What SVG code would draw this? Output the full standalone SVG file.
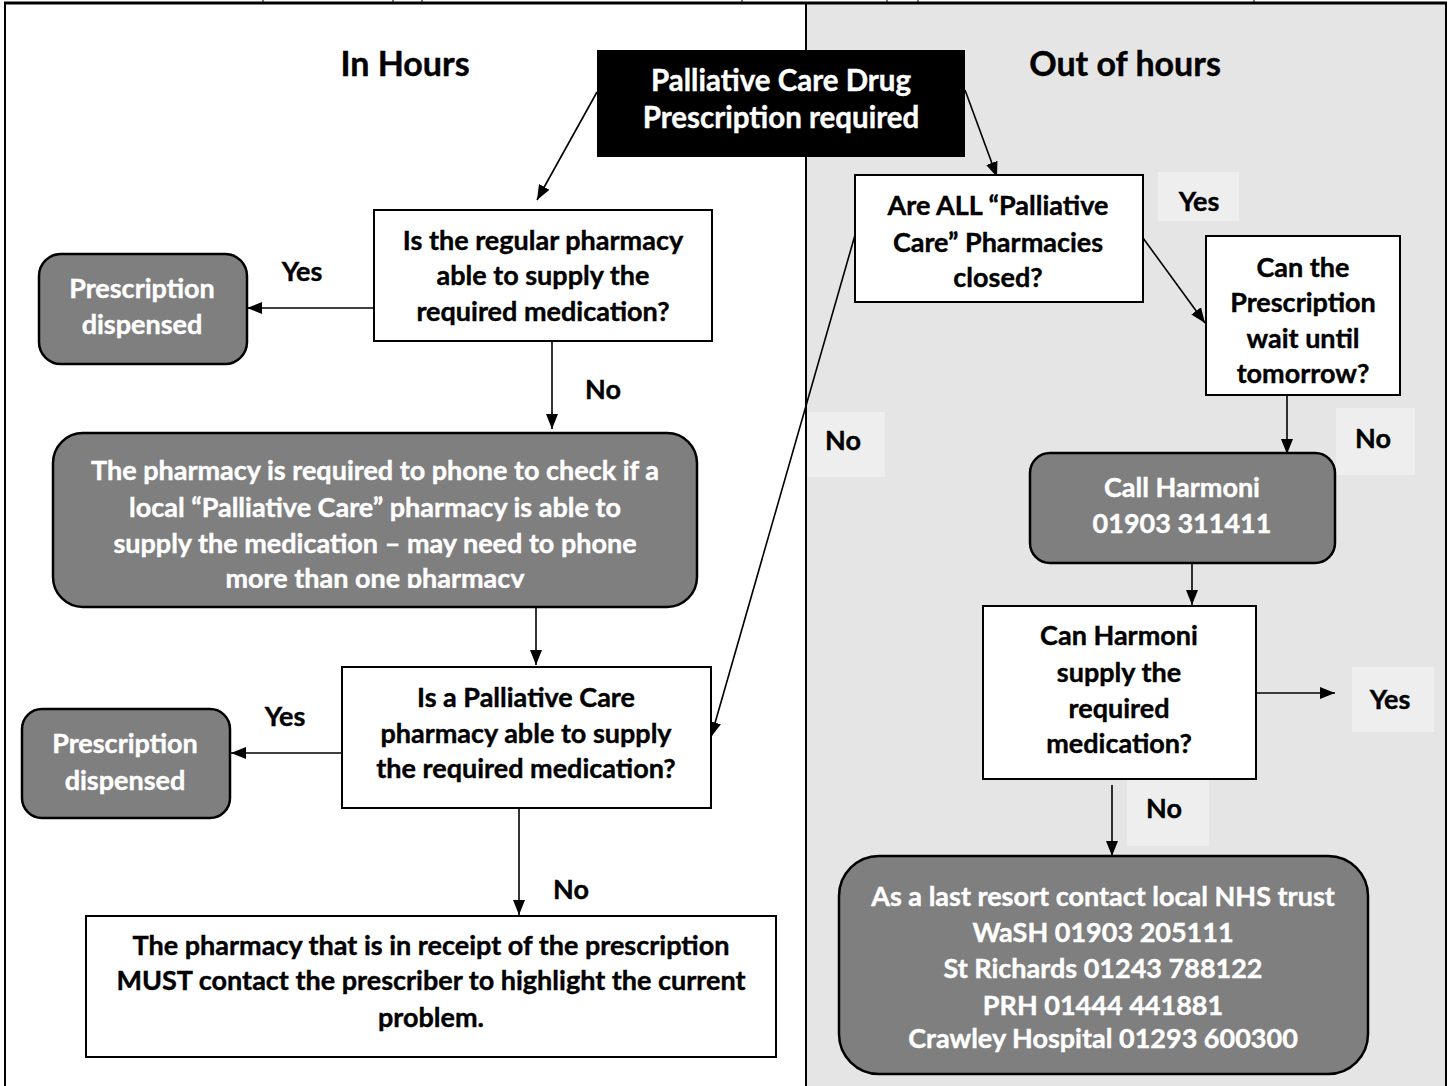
<svg xmlns="http://www.w3.org/2000/svg" width="1449" height="1086" viewBox="0 0 1449 1086">
<style>
.t{font-family:Lato,"Open Sans","Liberation Sans",sans-serif;font-weight:700;font-size:27px;text-anchor:middle;fill:#000;stroke:#000;stroke-width:0.4}
.w{fill:#fff;stroke:#fff}
.h{font-size:34px}
.s{font-size:29.5px}
.box{fill:#fff;stroke:#000;stroke-width:2}
.rb{fill:#7f7f7f;stroke:#000;stroke-width:2.5}
.lbl{fill:#eeeeee}
.c{fill:none;stroke:#000;stroke-width:1.6;marker-end:url(#ah)}
</style>
<defs>
<marker id="ah" markerUnits="userSpaceOnUse" markerWidth="15" markerHeight="15" viewBox="0 0 15 15" refX="15" refY="7.5" orient="auto">
<path d="M0,1.5 L15,7.5 L0,13.5 z" fill="#000"/>
</marker>
<clipPath id="clipBig"><rect x="53" y="433" width="644" height="155"/></clipPath>
</defs>

<!-- background / frame -->
<rect x="0" y="0" width="1449" height="1086" fill="#fff"/>
<rect x="807" y="3" width="639" height="1083" fill="#e5e5e5"/>
<rect x="4" y="1.5" width="1443" height="3" fill="#000"/>
<g stroke="#000" stroke-width="1">
<line x1="263" y1="0" x2="263" y2="2"/><line x1="393" y1="0" x2="393" y2="2"/><line x1="422" y1="0" x2="422" y2="2"/>
<line x1="742" y1="0" x2="742" y2="2"/><line x1="887" y1="0" x2="887" y2="2"/><line x1="918" y1="0" x2="918" y2="2"/><line x1="1254" y1="0" x2="1254" y2="2"/>
</g>
<line x1="5" y1="3" x2="5" y2="1086" stroke="#000" stroke-width="2"/>
<line x1="806" y1="3" x2="806" y2="1086" stroke="#000" stroke-width="2"/>
<line x1="1446" y1="3" x2="1446" y2="1086" stroke="#000" stroke-width="2"/>

<!-- headings -->
<text class="t h" x="405" y="76">In Hours</text>
<text class="t h" x="1125" y="76">Out of hours</text>

<!-- label backgrounds (right panel) -->
<g id="labelBoxes">
<rect class="lbl" x="1158" y="172" width="81" height="49"/>
<rect class="lbl" x="807" y="412" width="78" height="65"/>
<rect class="lbl" x="1336" y="408" width="79" height="67"/>
<rect class="lbl" x="1352" y="667" width="82" height="65"/>
<rect class="lbl" x="1127" y="780" width="82" height="66"/>
</g>

<!-- connectors -->
<g id="connectors">
<path class="c" d="M597,92 L537,200"/>
<path class="c" d="M965,90 L997,177"/>
<path class="c" d="M374,308 L247,308"/>
<path class="c" d="M552,341 L552,429"/>
<path class="c" d="M536,607 L536,665"/>
<path class="c" d="M342,753 L231,753"/>
<path class="c" d="M519,808 L519,915"/>
<path class="c" d="M855,235 L711,737"/>
<path class="c" d="M1143,238 L1205,323"/>
<path class="c" d="M1287,395 L1287,454"/>
<path class="c" d="M1192,563 L1192,605"/>
<path class="c" d="M1256,693 L1335,693"/>
<path class="c" d="M1112,785 L1112,856"/>
</g>

<!-- edge labels -->
<g id="edgeLabels">
<text class="t" x="302" y="281">Yes</text>
<text class="t" x="603" y="399">No</text>
<text class="t" x="285" y="726">Yes</text>
<text class="t" x="571" y="899">No</text>
<text class="t" x="1199" y="211">Yes</text>
<text class="t" x="843" y="450">No</text>
<text class="t" x="1373" y="448">No</text>
<text class="t" x="1390" y="709">Yes</text>
<text class="t" x="1164" y="818">No</text>
</g>

<g id="start">
<rect x="597" y="50" width="368" height="107" fill="#000"/>
<text class="t w s" x="781" y="91">Palliative Care Drug</text>
<text class="t w s" x="781" y="128">Prescription required</text>
</g>

<g id="regular">
<rect class="box" x="374" y="210" width="338" height="131"/>
<text class="t" x="543" y="250">Is the regular pharmacy</text>
<text class="t" x="543" y="285">able to supply the</text>
<text class="t" x="543" y="321">required medication?</text>
</g>

<g id="dispensed1">
<rect class="rb" x="39" y="254" width="208" height="110" rx="22"/>
<text class="t w" x="142" y="298">Prescription</text>
<text class="t w" x="142" y="334">dispensed</text>
</g>

<g id="phone">
<rect class="rb" x="53" y="433" width="644" height="174" rx="30"/>
<g clip-path="url(#clipBig)">
<text class="t w" x="375" y="480">The pharmacy is required to phone to check if a</text>
<text class="t w" x="375" y="517">local “Palliative Care” pharmacy is able to</text>
<text class="t w" x="375" y="553">supply the medication – may need to phone</text>
<text class="t w" x="375" y="588">more than one pharmacy</text>
</g>
</g>

<g id="palliative">
<rect class="box" x="342" y="667" width="369" height="141"/>
<text class="t" x="526" y="707">Is a Palliative Care</text>
<text class="t" x="526" y="743">pharmacy able to supply</text>
<text class="t" x="526" y="778">the required medication?</text>
</g>

<g id="dispensed2">
<rect class="rb" x="22" y="709" width="208" height="109" rx="20"/>
<text class="t w" x="125" y="753">Prescription</text>
<text class="t w" x="125" y="790">dispensed</text>
</g>

<g id="contact">
<rect class="box" x="86" y="916" width="690" height="141"/>
<text class="t" x="431" y="955">The pharmacy that is in receipt of the prescription</text>
<text class="t" x="431" y="990">MUST contact the prescriber to highlight the current</text>
<text class="t" x="431" y="1027">problem.</text>
</g>

<g id="closed">
<rect class="box" x="855" y="175" width="288" height="127"/>
<text class="t" x="998" y="215">Are ALL “Palliative</text>
<text class="t" x="998" y="252">Care” Pharmacies</text>
<text class="t" x="998" y="287">closed?</text>
</g>

<g id="wait">
<rect class="box" x="1206" y="236" width="194" height="159"/>
<text class="t" x="1303" y="277">Can the</text>
<text class="t" x="1303" y="312">Prescription</text>
<text class="t" x="1303" y="348">wait until</text>
<text class="t" x="1303" y="383">tomorrow?</text>
</g>

<g id="harmoni">
<rect class="rb" x="1030" y="453" width="305" height="110" rx="20"/>
<text class="t w" x="1182" y="497">Call Harmoni</text>
<text class="t w" x="1182" y="533">01903 311411</text>
</g>

<g id="harmoniSupply">
<rect class="box" x="983" y="606" width="273" height="173"/>
<text class="t" x="1119" y="645">Can Harmoni</text>
<text class="t" x="1119" y="682">supply the</text>
<text class="t" x="1119" y="718">required</text>
<text class="t" x="1119" y="753">medication?</text>
</g>

<g id="nhs">
<rect class="rb" x="839" y="856" width="529" height="218" rx="40"/>
<text class="t w" x="1103" y="906">As a last resort contact local NHS trust</text>
<text class="t w" x="1103" y="942">WaSH 01903 205111</text>
<text class="t w" x="1103" y="978">St Richards 01243 788122</text>
<text class="t w" x="1103" y="1015">PRH 01444 441881</text>
<text class="t w" x="1103" y="1048">Crawley Hospital 01293 600300</text>
</g>
</svg>
